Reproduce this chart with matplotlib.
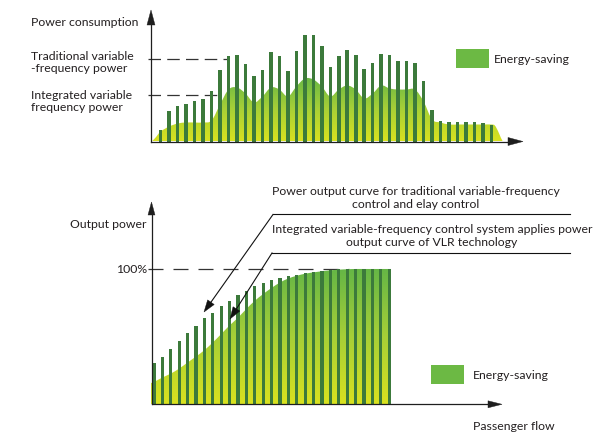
import numpy as np
import matplotlib
matplotlib.use("Agg")
import matplotlib.pyplot as plt
from matplotlib.path import Path
from matplotlib.patches import PathPatch, Polygon, Rectangle
from matplotlib.colors import LinearSegmentedColormap
from matplotlib.lines import Line2D

W, H = 599, 434

# ------------------------------------------------------------------ data
# top chart: power consumption per time slot (arbitrary units)
top_bar_heights = [12, 31, 36, 38, 41, 43, 51, 72, 86, 87, 78, 66, 72, 90, 86, 71,
                   91, 107, 107, 96, 75, 86, 92, 87, 73, 79, 88, 87, 81, 81, 79, 61,
                   32, 21, 20, 20, 20, 20, 19, 17]
top_area_x = [-1.05, -0.6] + list(range(40)) + [39.4, 39.8, 40.1, 40.35]
top_area_heights = [0, 4,
                    10, 15, 18, 19, 19, 19, 21, 37, 52, 54, 48, 39, 45, 54, 52, 45,
                    55, 63, 62, 55, 45, 52, 56, 52, 43, 48, 56, 53, 52, 52, 52, 40,
                    22, 19, 17, 17, 17, 17, 17, 17,
                    16, 10, 4, 0]
trad_level = 83
integ_level = 47

# bottom chart: output power (% of max) vs passenger flow
bottom_bar_pct = [30.7, 35.1, 40.8, 46.8, 52.5, 58.2, 63.6, 67.8, 72.8, 76.7, 80.7,
                  83.9, 87.1, 89.6, 91.6, 93.3, 94.6, 95.8, 97.0, 98.0, 98.8, 99.5,
                  100, 100, 100, 100, 100, 100, 100]
bottom_area_x = [-0.36] + list(range(29)) + [28.2]
bottom_area_pct = [15.8, 16.5, 19.8, 22.7, 26.4, 30.9, 35.3, 40.0, 45.7, 51.9, 58.3,
                   64.0, 70.5, 76.5, 81.5, 86.0, 90.0, 93.0, 95.0, 96.5, 97.5, 98.3,
                   99.0, 99.5, 99.8, 100, 100, 100, 100, 100, 100]

legend_label = "Energy-saving"

# ------------------------------------------------------------------ style
BAR = "#3c7a3b"
LEG = "#6cb944"
TXT = "#231f20"
AXC = "#1e1e1e"
cmap = LinearSegmentedColormap.from_list("eg", ["#d9e21f", "#a6cf37", "#64b646"])
FONT = "Lato"

fig = plt.figure(figsize=(W / 100, H / 100), dpi=100)


def P(x, y):
    return (x / W, 1 - y / H)


def axes_px(left, top, right, bottom):
    ax = fig.add_axes([left / W, 1 - bottom / H, (right - left) / W, (bottom - top) / H])
    ax.axis("off")
    return ax


def line_px(x0, y0, x1, y1, lw=0.9, color=AXC, **kw):
    fig.add_artist(Line2D([x0 / W, x1 / W], [1 - y0 / H, 1 - y1 / H],
                          transform=fig.transFigure, lw=lw, color=color, **kw))


def arrow_px(x0, y0, x1, y1, head_len, head_w, lw=0.9, color=AXC):
    d = np.array([x1 - x0, y1 - y0], float)
    L = np.hypot(*d)
    u = d / L
    n = np.array([-u[1], u[0]])
    tip = np.array([x1, y1], float)
    base = tip - u * head_len
    line_px(x0, y0, base[0] + u[0] * 1, base[1] + u[1] * 1, lw=lw, color=color)
    pts = [tip, base + n * head_w / 2, base - n * head_w / 2]
    fig.add_artist(Polygon([P(*p) for p in pts], closed=True, transform=fig.transFigure,
                           facecolor=color, edgecolor=color, lw=0.3))


def smooth_verts(xs, ys):
    Pt = np.column_stack([xs, ys]).astype(float)
    n = len(Pt)
    verts = [Pt[0]]
    codes = [Path.MOVETO]
    for i in range(n - 1):
        p0 = Pt[i - 1] if i > 0 else Pt[i]
        p1, p2 = Pt[i], Pt[i + 1]
        p3 = Pt[i + 2] if i + 2 < n else Pt[i + 1]
        verts += [p1 + (p2 - p0) / 6, p2 - (p3 - p1) / 6, p2]
        codes += [Path.CURVE4] * 3
    return verts, codes


def gradient_area(ax, xs, ys, ctop, close_pts):
    verts, codes = smooth_verts(xs, ys)
    for p in close_pts:
        verts.append(np.array(p, float))
        codes.append(Path.LINETO)
    verts.append(verts[0])
    codes.append(Path.CLOSEPOLY)
    patch = PathPatch(Path(verts, codes), facecolor="none", edgecolor="none",
                      transform=ax.transData)
    ax.add_patch(patch)
    grad = np.linspace(0, 1, 256).reshape(-1, 1)
    im = ax.imshow(grad, extent=[min(xs) - 1, max(xs) + 1, 0, ctop], origin="lower",
                   cmap=cmap, aspect="auto", zorder=2, interpolation="bilinear")
    im.set_clip_path(patch)


def txt(x, y, s, ha="left", fs=None):
    return fig.text(x / W, 1 - y / H, s, ha=ha, va="baseline", fontsize=fs or FS,
                    color=TXT, family=FONT)


# ---- font size fitted to the reference annotation width
renderer = fig.canvas.get_renderer()
probe = fig.text(0, 0, "Power output curve for traditional variable-frequency",
                 fontsize=10, family=FONT)
wpx = probe.get_window_extent(renderer).width
probe.remove()
FS = 10 * 290 / wpx

# ================================================================== top chart
ax1 = axes_px(151, 10, 523, 141.5)
x1lim = ((151 - 160.7) / 8.48, (523 - 160.7) / 8.48)
ax1.plot([x1lim[0] - 0.4, 7.95], [trad_level] * 2, color="#333333", lw=0.9,
         dashes=(10, 5), zorder=1, clip_on=False)
ax1.plot([x1lim[0] - 0.4, 7.4], [integ_level] * 2, color="#333333", lw=0.9,
         dashes=(10, 5), zorder=1, clip_on=False)
gradient_area(ax1, top_area_x, top_area_heights, 66,
              [(top_area_x[-1], 0), (top_area_x[0], 0)])
ax1.bar(range(len(top_bar_heights)), top_bar_heights, width=0.42, color=BAR,
        zorder=3, linewidth=0)
ax1.set_xlim(*x1lim)
ax1.set_ylim(0, 131.5)

arrow_px(151, 141.5, 151, 10, 15, 8)
arrow_px(151, 141.5, 523, 141.5, 15, 8)

txt(31, 26.5, "Power consumption")
txt(31, 60, "Traditional variable")
txt(31, 71.7, "-frequency power")
txt(31, 99, "Integrated variable")
txt(31, 110.7, "frequency power")

fig.add_artist(Rectangle(P(456, 68), 33 / W, 19 / H, transform=fig.transFigure,
                         facecolor=LEG, edgecolor="none"))
txt(494, 63.3, legend_label)

# ================================================================== bottom chart
ax2 = axes_px(151, 202, 502, 404.3)
x2lim = ((151 - 154) / 8.4, (502 - 154) / 8.4)
ax2.plot([x2lim[0] - 0.4, 23.2], [100, 100], color="#333333", lw=0.9,
         dashes=(12, 8), zorder=1, clip_on=False)
gradient_area(ax2, bottom_area_x, bottom_area_pct, 100,
              [(bottom_area_x[-1], 0), (bottom_area_x[0], 0)])
ax2.bar(range(len(bottom_bar_pct)), bottom_bar_pct, width=0.38, color=BAR,
        zorder=3, linewidth=0)
ax2.set_xlim(*x2lim)
ax2.set_ylim(0, 149.5)

arrow_px(151.5, 404.3, 151.5, 202, 13, 7)
arrow_px(151.5, 404.3, 502, 404.3, 14, 7)

txt(146.5, 228.3, "Output power", ha="right")
txt(147, 273.3, "100%", ha="right")
txt(473, 430.5, "Passenger flow")

fig.add_artist(Rectangle(P(431, 384), 33 / W, 19 / H, transform=fig.transFigure,
                         facecolor=LEG, edgecolor="none"))
txt(473, 379.3, legend_label)

# annotations
txt(416, 195, "Power output curve for traditional variable-frequency", ha="center")
txt(416, 208, "control and elay control", ha="center")
txt(432, 233, "Integrated variable-frequency control system applies power", ha="center")
txt(432, 246, "output curve of VLR technology", ha="center")
line_px(273, 214.5, 570, 214.5, lw=0.8, color="#111111")
line_px(272, 253, 570, 253, lw=0.8, color="#111111")
arrow_px(273, 214.5, 204, 312, 12, 8, lw=0.8, color="#111111")
arrow_px(272, 253, 230, 319, 12, 8, lw=0.8, color="#111111")

fig.savefig("out.png", dpi=100)
